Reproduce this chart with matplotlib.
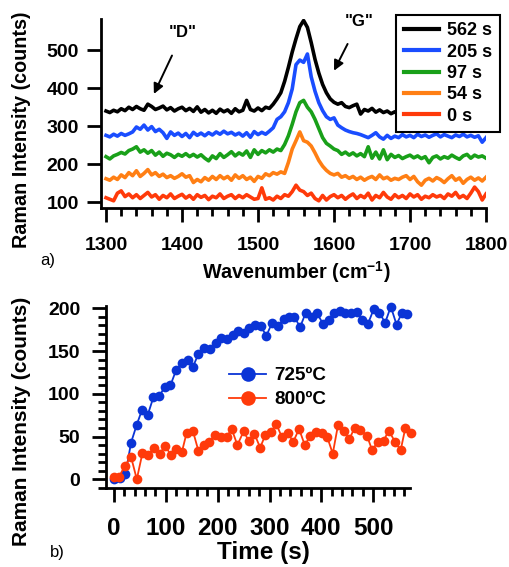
import numpy as np
import matplotlib
matplotlib.use("Agg")
import matplotlib.pyplot as plt
from matplotlib.ticker import MultipleLocator

plt.rcParams['font.family'] = ['Liberation Sans', 'DejaVu Sans']
plt.rcParams['font.weight'] = 'bold'
plt.rcParams['mathtext.fontset'] = 'custom'
plt.rcParams['mathtext.rm'] = 'Liberation Sans:bold'
plt.rcParams['mathtext.bf'] = 'Liberation Sans:bold'

# ---------------- data: panel a (Raman spectra) ----------------
wavenumber = np.arange(1300, 1801, 5)

spec_562 = [340, 336, 342, 338, 346, 341, 350, 344, 352, 346,
            342, 358, 352, 344, 348, 353, 343, 349, 340, 346,
            350, 341, 347, 339, 351, 337, 344, 335, 342, 334,
            345, 338, 343, 334, 346, 338, 342, 368, 344, 340,
            348, 341, 350, 347, 358, 372, 388, 418, 455, 495,
            530, 562, 578, 560, 520, 476, 440, 410, 388, 372,
            363, 358, 362, 352, 349, 354, 358, 332, 344, 340,
            347, 337, 343, 336, 340, 333, 338, 330, 336, 340,
            333, 338, 335, 341, 334, 338, 332, 339, 336, 333,
            340, 335, 338, 332, 337, 334, 339, 333, 336, 338,
            334]
spec_205 = [276, 272, 279, 274, 281, 276, 280, 285, 298, 292,
            303, 290, 299, 286, 292, 283, 268, 285, 276, 282,
            273, 281, 270, 284, 276, 282, 275, 283, 277, 285,
            279, 287, 280, 284, 277, 282, 274, 283, 271, 286,
            278, 284, 279, 287, 296, 318, 325, 338, 362, 398,
            462, 474, 468, 490, 430, 392, 362, 341, 325, 318,
            322, 303, 296, 290, 286, 283, 281, 278, 274, 270,
            276, 283, 272, 266, 276, 268, 274, 270, 278, 272,
            276, 270, 279, 273, 277, 271, 276, 280, 272, 278,
            274, 270, 277, 273, 279, 272, 276, 271, 275, 258,
            270]
spec_97 = [220, 214, 222, 226, 231, 227, 236, 240, 246, 232,
           238, 229, 236, 224, 232, 221, 229, 225, 218, 226,
           221, 228, 220, 226, 219, 225, 216, 209, 222, 215,
           228, 218, 225, 233, 222, 230, 224, 235, 218, 238,
           226, 236, 230, 238, 232, 240, 236, 252, 275, 305,
           338, 362, 368, 350, 338, 318, 294, 270, 255, 248,
           240, 236, 226, 232, 224, 230, 222, 228, 220, 246,
           216, 232, 214, 238, 212, 226, 218, 223, 215, 220,
           224, 217, 222, 215, 220, 204, 218, 222, 214, 220,
           216, 224, 218, 213, 222, 226, 216, 224, 219, 222,
           216]
spec_54 = [162, 158, 166, 160, 172, 165, 178, 170, 183, 168,
           176, 186, 172, 178, 168, 174, 165, 170, 163, 168,
           175, 166, 170, 152, 160, 154, 165, 158, 168, 160,
           170, 162, 168, 158, 172, 163, 170, 160, 166, 155,
           168, 163, 175, 170, 178, 174, 180, 176, 205, 240,
           262, 285, 262, 258, 248, 230, 210, 195, 184, 176,
           172, 176, 166, 170, 163, 168, 160, 166, 158, 164,
           168, 160, 172, 162, 166, 158, 163, 160, 166, 170,
           160, 168, 154, 145, 158, 163, 156, 165, 160, 152,
           162, 170, 158, 164, 150, 160, 166, 158, 164, 156,
           166]
spec_0 = [112, 108, 104, 124, 130, 115, 122, 112, 120, 110,
          118, 126, 114, 120, 108, 118, 112, 122, 110, 116,
          121, 111, 118, 108, 120, 113, 118, 107, 116, 112,
          122, 110, 116, 120, 110, 118, 112, 120, 114, 108,
          110, 138, 108, 112, 106, 116, 110, 120, 116, 128,
          145, 132, 128, 118, 124, 110, 104, 118, 106, 115,
          120, 112, 118, 108, 116, 122, 110, 118, 112, 124,
          106, 118, 112, 126, 114, 108, 120, 112, 118, 110,
          122, 114, 120, 108, 116, 112, 120, 114, 118, 110,
          122, 116, 126, 112, 118, 110, 124, 140, 128, 106,
          122]

spec_labels = ['562 s', '205 s', '97 s', '54 s', '0 s']
spec_colors = ['#000000', '#1a4dff', '#19a019', '#ff7f14', '#ff3a0a']

# ---------------- data: panel b (intensity vs time) ----------------
time_725 = [0, 11, 22, 33, 44, 54, 65, 76, 87, 98, 109, 120, 131, 142, 152,
            163, 174, 185, 196, 207, 218, 229, 240, 250, 261, 272, 283, 294,
            305, 316, 327, 338, 348, 359, 370, 381, 392, 403, 414, 425, 436,
            446, 457, 468, 479, 490, 501, 512, 523, 534, 545, 555, 566]
int_725 = [0, 1, 6, 43, 64, 81, 75, 96, 97, 108, 110, 128, 136, 140, 131,
           147, 153, 152, 159, 165, 164, 169, 173, 171, 177, 181, 179, 168,
           183, 179, 187, 190, 190, 178, 195, 190, 194, 182, 186, 195, 197,
           194, 195, 196, 186, 182, 199, 195, 183, 202, 181, 194, 193]

time_800 = [0, 10, 21, 33, 44, 55, 66, 77, 88, 99, 110, 120, 131, 140, 152,
            163, 174, 184, 195, 206, 218, 227, 238, 250, 260, 271, 282, 292,
            303, 313, 324, 335, 346, 357, 368, 379, 390, 401, 411, 422, 432,
            443, 454, 464, 475, 488, 498, 509, 520, 530, 542, 553, 562, 573]
int_800 = [3, 3, 16, 26, 0, 31, 28, 37, 30, 39, 28, 36, 32, 54, 57,
           33, 40, 44, 52, 50, 50, 59, 40, 56, 45, 53, 37, 52,
           55, 65, 49, 54, 44, 59, 40, 51, 55, 54, 50, 30, 63,
           57, 47, 60, 58, 51, 34, 44, 45, 57, 44, 34, 60, 54]

temp_labels = ['725ºC', '800ºC']
temp_colors = ['#0a34d6', '#ff3a0a']

W, H = 509, 567
fig = plt.figure(figsize=(W / 100, H / 100), dpi=100)

# ---------------- panel a ----------------
ax1 = fig.add_axes([101 / W, 1 - 208 / H, (486 - 101) / W, (208 - 19) / H])
series = [spec_562, spec_205, spec_97, spec_54, spec_0]
for lab, col, ys in zip(spec_labels, spec_colors, series):
    assert len(ys) == len(wavenumber)
    ax1.plot(wavenumber, ys, color=col, lw=2.6, label=lab, solid_joinstyle='round')

ax1.set_xlim(1293.4, 1800)
ax1.set_ylim(85, 582)
ax1.xaxis.set_major_locator(MultipleLocator(100))
ax1.xaxis.set_minor_locator(MultipleLocator(20))
ax1.yaxis.set_major_locator(MultipleLocator(100))

leg1 = ax1.legend(loc='upper right', bbox_to_anchor=(1.036, 1.022), borderaxespad=0,
                  frameon=True, fancybox=False, edgecolor='black', framealpha=1,
                  fontsize=13, handlelength=1.95, handletextpad=0.45, labelspacing=0.24,
                  borderpad=0.42)
leg1.get_frame().set_linewidth(1.5)
for h in leg1.get_lines():
    h.set_linewidth(3)

ax1.annotate('"D"', xy=(1363, 385), xytext=(1401, 546), ha='center', va='center',
             fontsize=12,
             arrowprops=dict(arrowstyle='-|>', lw=1.4, color='black', mutation_scale=15,
                             shrinkA=10, shrinkB=0))
ax1.annotate('"G"', xy=(1600, 446), xytext=(1633, 576), ha='center', va='center',
             fontsize=12,
             arrowprops=dict(arrowstyle='-|>', lw=1.4, color='black', mutation_scale=15,
                             shrinkA=10, shrinkB=0))

# ---------------- panel b ----------------
ax2 = fig.add_axes([106 / W, 1 - 488 / H, (410 - 106) / W, (488 - 306) / H])
ax2.plot(time_725, int_725, '-o', color=temp_colors[0], lw=1.3, ms=7, mew=0,
         label=temp_labels[0], clip_on=False)
ax2.plot(time_800, int_800, '-o', color=temp_colors[1], lw=1.3, ms=7, mew=0,
         label=temp_labels[1], clip_on=False)
ax2.set_xlim(-15.4, 571)
ax2.set_ylim(-10.2, 202.7)
ax2.xaxis.set_major_locator(MultipleLocator(100))
ax2.xaxis.set_minor_locator(MultipleLocator(20))
ax2.yaxis.set_major_locator(MultipleLocator(50))
ax2.yaxis.set_minor_locator(MultipleLocator(10))

ax2.legend(loc='upper left', bbox_to_anchor=(0.405, 0.665), borderaxespad=0,
           frameon=False, fontsize=13.6, handlelength=1.95, handletextpad=0.42,
           labelspacing=0.36, markerscale=1.5, borderpad=0)

for ax in (ax1, ax2):
    for s in ('top', 'right'):
        ax.spines[s].set_visible(False)
    for s in ('left', 'bottom'):
        ax.spines[s].set_linewidth(2)
    ax.tick_params(which='major', direction='out', length=10, width=2)
    ax.tick_params(which='minor', direction='out', length=5.5, width=2)

ax1.tick_params(axis='both', which='major', labelsize=14)
ax1.tick_params(axis='y', which='major', pad=6)
ax1.tick_params(axis='x', which='major', pad=11)
ax2.tick_params(axis='y', which='major', labelsize=14, pad=8.5)
ax2.tick_params(axis='x', which='major', labelsize=17.5, pad=11)

# labels
fig.text(22 / W, 1 - 130 / H, 'Raman Intensity (counts)', rotation=90, ha='center',
         va='center', fontsize=14.2, fontweight='bold')
fig.text(296 / W, 1 - 272 / H, r'Wavenumber (cm$^{-1}$)', ha='center', va='center',
         fontsize=14.2, fontweight='bold')
fig.text(40 / W, 1 - 260 / H, 'a)', ha='left', va='center', fontsize=12, fontweight='normal')
fig.text(22 / W, 1 - 421 / H, 'Raman Intensity (counts)', rotation=90, ha='center',
         va='center', fontsize=15, fontweight='bold')
fig.text(263 / W, 1 - 553 / H, 'Time (s)', ha='center', va='center',
         fontsize=17.5, fontweight='bold')
fig.text(50 / W, 1 - 553 / H, 'b)', ha='left', va='center', fontsize=12, fontweight='normal')

fig.savefig('out.png', dpi=100)
